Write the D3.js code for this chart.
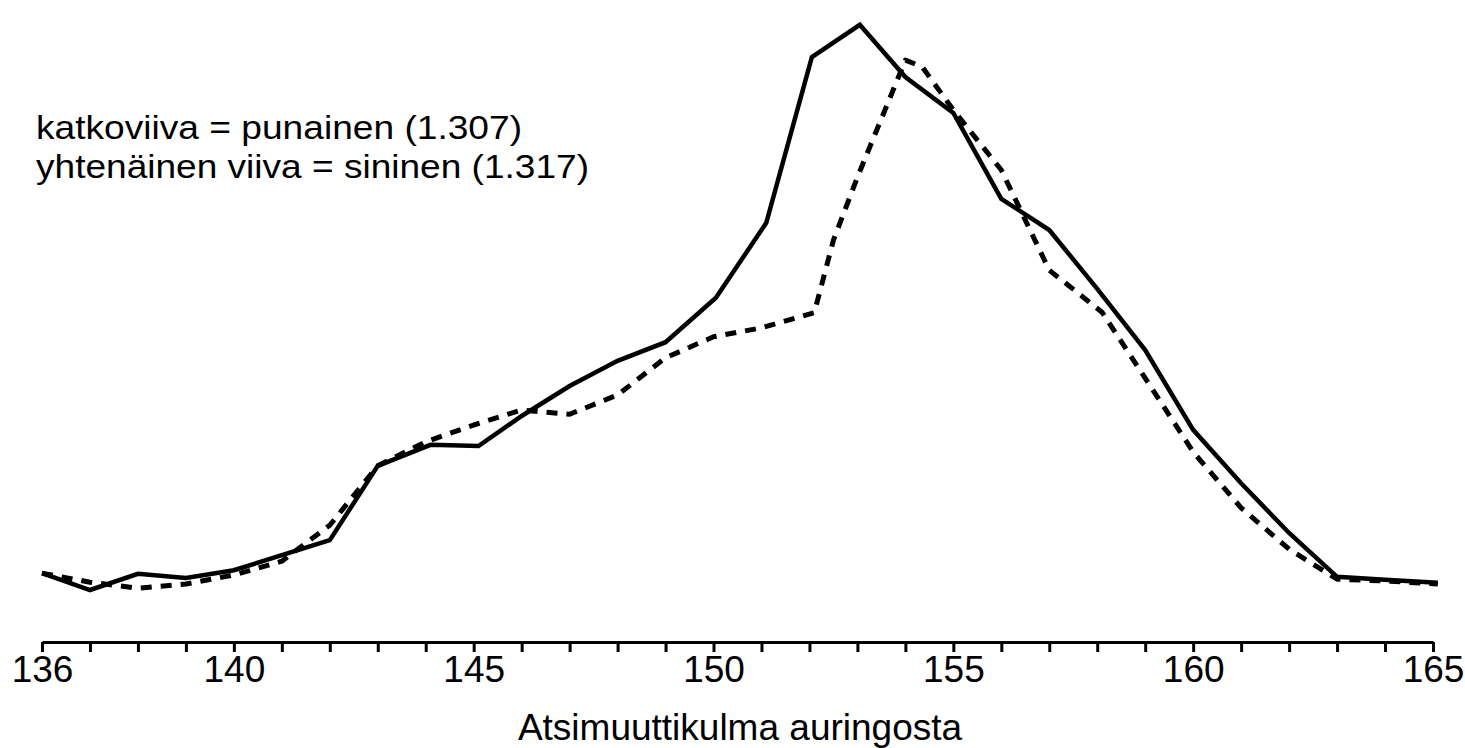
<!DOCTYPE html>
<html>
<head>
<meta charset="utf-8">
<script src="https://cdn.jsdelivr.net/npm/d3@7"></script>
<style>
  html, body { margin: 0; padding: 0; background: #fff; }
  svg { display: block; }
  text { font-family: "Liberation Sans", Arial, Helvetica, sans-serif; fill: #000; }
</style>
</head>
<body>
<svg id="chart" width="1465" height="748"></svg>
<script>
// Azimuth angle from the sun (degrees)
const solidX = [136, 137, 138, 139, 140, 141, 142, 143, 144.1, 145.1, 146, 147, 148, 149, 150.05, 151.1, 152.05, 153.05, 154, 155, 156, 157, 158, 159, 160, 161, 162, 163, 164, 165.1];
// "yhtenäinen viiva = sininen (1.317)" – relative intensity
const solidY = [7.8, 5.0, 7.7, 7.0, 8.3, 10.8, 13.3, 25.7, 29.2, 29.0, 34.0, 39.0, 43.2, 46.3, 53.7, 66.2, 93.8, 99.2, 90.5, 84.5, 70.2, 65.0, 55.2, 45.0, 31.7, 22.8, 14.5, 7.2, 6.7, 6.2];

const dashedX = [136, 137, 138, 139, 140, 141, 142, 143, 144, 145, 146, 147, 148, 149, 150, 151, 152.1, 152.5, 153, 154, 154.35, 155, 156, 157, 158.1, 159, 160, 161, 162, 163, 164, 165.1];
// "katkoviiva = punainen (1.307)" – relative intensity
const dashedY = [7.8, 6.3, 5.3, 6.0, 7.5, 9.8, 15.8, 25.7, 29.7, 32.5, 35.0, 34.3, 37.5, 43.7, 47.2, 48.7, 51.2, 63.3, 73.8, 93.3, 92.2, 85.0, 75.0, 58.3, 51.3, 40.3, 28.0, 18.7, 11.8, 6.8, 6.5, 6.0];

const tickValues = d3.range(136, 166, 1);
const tickLabels = [136, 140, 145, 150, 155, 160, 165];
const legendLines = ["katkoviiva = punainen (1.307)", "yhtenäinen viiva = sininen (1.317)"];
const xTitle = "Atsimuuttikulma auringosta";

const svg = d3.select("#chart");
const x = d3.scaleLinear().domain([136, 165]).range([42, 1433]);
const y = d3.scaleLinear().domain([0, 100]).range([620, 20]);

const line = d3.line().x(d => x(d[0])).y(d => y(d[1]));

const solid = solidX.map((v, i) => [v, solidY[i]]);
const dashed = dashedX.map((v, i) => [v, dashedY[i]]);

svg.append("path")
  .datum(dashed)
  .attr("d", line)
  .attr("fill", "none")
  .attr("stroke", "#000")
  .attr("stroke-width", 5)
  .attr("stroke-dasharray", "11,9")
  .attr("stroke-linejoin", "round");

svg.append("path")
  .datum(solid)
  .attr("d", line)
  .attr("fill", "none")
  .attr("stroke", "#000")
  .attr("stroke-width", 4.5)
  .attr("stroke-linejoin", "miter");

// x axis
const axis = d3.axisBottom(x)
  .tickValues(tickValues)
  .tickSize(10)
  .tickSizeOuter(0)
  .tickFormat(d => tickLabels.includes(d) ? d : "");

const gx = svg.append("g").attr("transform", "translate(0,642)").call(axis);
gx.select(".domain").attr("stroke", "#000").attr("stroke-width", 3);
gx.selectAll(".tick line").attr("stroke", "#000").attr("stroke-width", 3);
gx.selectAll(".tick text")
  .attr("y", 0)
  .attr("dy", 0)
  .attr("transform", "translate(0,40)")
  .style("font-family", '"Liberation Sans", Arial, sans-serif')
  .style("font-size", "37px")
  .attr("fill", "#000");

// axis title
svg.append("text")
  .attr("x", 740)
  .attr("y", 740)
  .attr("text-anchor", "middle")
  .style("font-size", "37px")
  .text(xTitle);

// legend
svg.selectAll(".legend")
  .data(legendLines)
  .enter().append("text")
  .attr("class", "legend")
  .attr("x", 36)
  .attr("y", (d, i) => 139 + i * 39)
  .style("font-size", "33px")
  .attr("textLength", (d, i) => i === 0 ? 486 : 553)
  .attr("lengthAdjust", "spacingAndGlyphs")
  .text(d => d);
</script>
</body>
</html>
